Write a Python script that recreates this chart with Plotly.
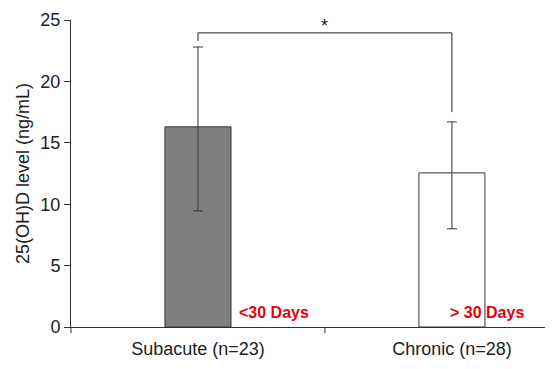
import plotly.graph_objects as go

categories = ["Subacute (n=23)", "Chronic (n=28)"]
means = [16.3, 12.55]
err_plus = [6.5, 4.15]
err_minus = [6.85, 4.55]
bar_colors = ["#7f7f80", "#ffffff"]
duration_labels = ["<30 Days", "> 30 Days"]
y_ticks = [0, 5, 10, 15, 20, 25]
bracket_y = 23.95
bracket_left_end = 23.3
bracket_right_end = 17.5
sig_label = "*"

FONT = "Liberation Sans, Arial, sans-serif"
TXT = "#222222"

fig = go.Figure()
fig.add_trace(go.Bar(
    x=[0, 1], y=means, width=0.26,
    marker=dict(color=bar_colors, line=dict(color="#333333", width=1)),
    error_y=dict(type="data", symmetric=False, array=err_plus, arrayminus=err_minus,
                 color="#333333", thickness=1, width=5),
    showlegend=False,
))

# significance bracket
fig.add_shape(type="line", x0=0, x1=1, y0=bracket_y, y1=bracket_y,
              line=dict(color=TXT, width=1))
fig.add_shape(type="line", x0=0, x1=0, y0=bracket_y, y1=bracket_left_end,
              line=dict(color=TXT, width=1))
fig.add_shape(type="line", x0=1, x1=1, y0=bracket_y, y1=bracket_right_end,
              line=dict(color=TXT, width=1))
fig.add_annotation(x=0.5, y=bracket_y, text=sig_label, showarrow=False,
                   yanchor="bottom", yshift=-5, font=dict(size=18, color=TXT, family=FONT))

# duration labels
fig.add_annotation(x=0.158, y=1.2, text="<b>%s</b>" % duration_labels[0], showarrow=False,
                   xanchor="left", yanchor="middle", xshift=-1,
                   font=dict(size=16, color="#e0000f", family=FONT))
fig.add_annotation(x=0.99, y=1.2, text="<b>%s</b>" % duration_labels[1], showarrow=False,
                   xanchor="left", yanchor="middle", xshift=-1,
                   font=dict(size=16, color="#e0000f", family=FONT))

# page body has an 8px margin; compensate so the plot lands where the reference has it
fig.update_layout(
    width=545, height=361,
    margin=dict(l=63, r=0, t=12, b=42, autoexpand=False),
    plot_bgcolor="white", paper_bgcolor="white",
    font=dict(family=FONT, color=TXT),
    xaxis=dict(
        range=[-0.5, 1.398],
        tickmode="array", tickvals=[0, 1], ticktext=categories,
        ticks="outside", ticklen=5, tickcolor="rgba(0,0,0,0)",
        showline=True, linecolor="#333333", linewidth=1,
        showgrid=False, zeroline=False, automargin=False,
        tickfont=dict(size=18, color=TXT),
    ),
    yaxis=dict(
        range=[0, 25], tickvals=y_ticks,
        ticks="outside", ticklen=6, tickcolor="#333333",
        showline=True, linecolor="#333333", linewidth=1,
        showgrid=False, zeroline=False, automargin=False,
        tickfont=dict(size=18, color=TXT),
        title=dict(text="25(OH)D level (ng/mL)", font=dict(size=18, color=TXT), standoff=6),
    ),
)
# middle x tick between categories
fig.add_shape(type="line", xref="x", yref="paper", x0=0.5, x1=0.5, y0=0, y1=-0.02,
              line=dict(color="#333333", width=1))
# y axis line continues slightly below zero like the reference
fig.add_shape(type="line", xref="paper", yref="paper", x0=0, x1=0, y0=0, y1=-0.02,
              line=dict(color="#333333", width=1))

fig.write_html("out.html")
